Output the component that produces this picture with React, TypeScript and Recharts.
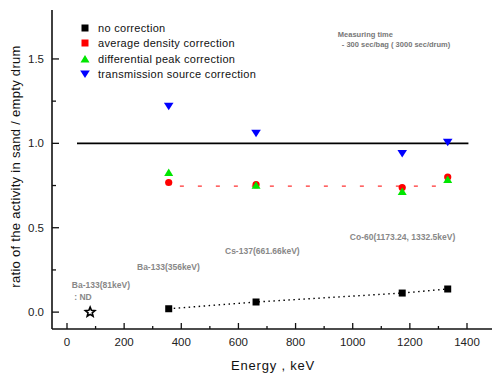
import React from "react";
import { ComposedChart, Scatter, Line, XAxis, YAxis, ReferenceDot, Label } from "recharts";

// energies of the measured gamma lines (keV)
const energies = [356, 661.66, 1173.24, 1332.5];
const noCorrection = [0.02, 0.06, 0.113, 0.137];
const avgDensity = [0.768, 0.755, 0.738, 0.8];
const diffPeak = [0.827, 0.752, 0.714, 0.786];
const transmission = [1.22, 1.06, 0.94, 1.006];
const ba81 = [{ x: 81, y: 0 }];
const unityLine = [{ x: 35, y: 1 }, { x: 1405, y: 1 }];
const avgLine = [{ x: 395, y: 0.747 }, { x: 1305, y: 0.747 }];

const xTicks = [0, 100, 200, 300, 400, 500, 600, 700, 800, 900, 1000, 1100, 1200, 1300, 1400];
const yTicks = [0, 0.25, 0.5, 0.75, 1, 1.25, 1.5];
const xDomain = [-52.5, 1501.5];
const yDomain = [-0.1, 1.79];

const seriesNames = [
  "no correction",
  "average density correction",
  "differential peak correction",
  "transmission source correction",
];
const seriesColors = ["#000000", "#ff0000", "#00e600", "#0000ff"];

const toPoints = (ys: number[]) => energies.map((x, i) => ({ x, y: ys[i] }));

const FONT = "'Liberation Sans', Arial, sans-serif";
const AXIS = "#111";

const Square = ({ cx, cy }: any) => <rect x={cx - 3.5} y={cy - 3.5} width={7} height={7} fill={seriesColors[0]} />;
const Dot = ({ cx, cy }: any) => <circle cx={cx} cy={cy} r={3.6} fill={seriesColors[1]} />;
const TriUp = ({ cx, cy }: any) => (
  <polygon points={`${cx},${cy - 4} ${cx + 4.5},${cy + 3.5} ${cx - 4.5},${cy + 3.5}`} fill={seriesColors[2]} />
);
const TriDown = ({ cx, cy }: any) => (
  <polygon points={`${cx - 4.8},${cy - 3.5} ${cx + 4.8},${cy - 3.5} ${cx},${cy + 4}`} fill={seriesColors[3]} />
);
const Star = ({ cx, cy }: any) => {
  const pts: string[] = [];
  for (let i = 0; i < 10; i++) {
    const r = i % 2 === 0 ? 5 : 2.2;
    const a = -Math.PI / 2 + (i * Math.PI) / 5;
    pts.push(`${cx + r * Math.cos(a)},${cy + r * Math.sin(a)}`);
  }
  return <polygon points={pts.join(" ")} fill="none" stroke="#000" strokeWidth={1.6} />;
};

const XTick = ({ x, y, payload }: any) => {
  const major = payload.value % 200 === 0;
  return (
    <g>
      <line x1={x} x2={x} y1={y} y2={y - (major ? 6 : 3)} stroke={AXIS} strokeWidth={1.3} />
      {major && (
        <text x={x} y={y + 13} textAnchor="middle" dominantBaseline="central" fontSize={11.5} fontFamily={FONT} fill="#222">
          {payload.value}
        </text>
      )}
    </g>
  );
};

const YTick = ({ x, y, payload }: any) => {
  const major = Math.abs(payload.value * 2 - Math.round(payload.value * 2)) < 1e-6;
  return (
    <g>
      <line x1={x} x2={x + (major ? 7 : 4)} y1={y} y2={y} stroke={AXIS} strokeWidth={1.3} />
      {major && (
        <text x={x - 8} y={y} textAnchor="end" dominantBaseline="central" fontSize={11.5} fontFamily={FONT} fill="#222">
          {payload.value.toFixed(1)}
        </text>
      )}
    </g>
  );
};

const note = (lines: string[], size: number, color: string, weight = "normal", indent = 0) =>
  ({ viewBox }: any) => (
    <text x={viewBox.x} y={viewBox.y} fontSize={size} fontFamily={FONT} fill={color} fontWeight={weight} dominantBaseline="central">
      {lines.map((l, i) => (
        <tspan key={i} x={viewBox.x + (i > 0 ? indent : 0)} dy={i === 0 ? 0 : size * 1.4}>
          {l}
        </tspan>
      ))}
    </text>
  );

const LegendBox = () => (
  <div style={{ position: "absolute", left: 79, top: 20, fontFamily: FONT, fontSize: 11, color: "#111", pointerEvents: "none" }}>
    {seriesNames.map((n, i) => (
      <div key={n} style={{ display: "flex", alignItems: "center", height: 15.5 }}>
        <svg width={12} height={12} style={{ marginRight: 7 }}>
          {i === 0 && <rect x={2.5} y={2.5} width={7} height={7} fill={seriesColors[0]} />}
          {i === 1 && <rect x={2.5} y={2.5} width={7} height={7} fill={seriesColors[1]} />}
          {i === 2 && <polygon points="6,2 10.5,9.5 1.5,9.5" fill={seriesColors[2]} />}
          {i === 3 && <polygon points="1.2,2.5 10.8,2.5 6,10" fill={seriesColors[3]} />}
        </svg>
        <span style={{ letterSpacing: 0.3 }}>{n}</span>
      </div>
    ))}
  </div>
);

export default function App() {
  return (
    <div style={{ position: "absolute", left: 0, top: 0, width: 492, height: 373, overflow: "hidden", background: "#fff" }}>
      <ComposedChart width={496} height={373} margin={{ top: 10, right: 0, bottom: 0, left: 0 }}>
        <XAxis
          dataKey="x"
          type="number"
          domain={xDomain}
          allowDataOverflow
          ticks={xTicks}
          interval={0}
          height={44}
          tickSize={0}
          tickMargin={0}
          tickLine={false}
          tick={<XTick />}
          axisLine={{ stroke: AXIS, strokeWidth: 1.6 }}
        >
          <Label
            content={({ viewBox }: any) => (
              <text x={273} y={viewBox.y + 36} textAnchor="middle" dominantBaseline="central" fontSize={13} fontFamily={FONT} fill="#111" letterSpacing={0.8}>
                Energy , keV
              </text>
            )}
          />
        </XAxis>
        <XAxis xAxisId="top" orientation="top" type="number" domain={xDomain} height={0} tick={false} tickLine={false} axisLine={{ stroke: AXIS, strokeWidth: 1.6 }} />
        <YAxis
          dataKey="y"
          type="number"
          domain={yDomain}
          allowDataOverflow
          ticks={yTicks}
          interval={0}
          width={52}
          tickSize={0}
          tickMargin={0}
          tickLine={false}
          tick={<YTick />}
          axisLine={{ stroke: AXIS, strokeWidth: 1.6 }}
        >
          <Label
            content={({ viewBox }: any) => {
              const cx = viewBox.x + 15;
              const cy = viewBox.y + viewBox.height / 2 - 3;
              return (
                <text x={cx} y={cy} transform={`rotate(-90 ${cx} ${cy})`} textAnchor="middle" dominantBaseline="central" fontSize={13} fontFamily={FONT} fill="#111" letterSpacing={0.3}>
                  ratio of the activity in sand / empty drum
                </text>
              );
            }}
          />
        </YAxis>

        <Line data={unityLine} dataKey="y" type="linear" stroke="#000" strokeWidth={1.6} dot={false} isAnimationActive={false} legendType="none" />
        <Line data={avgLine} dataKey="y" type="linear" stroke="#ff3333" strokeWidth={1.3} strokeDasharray="4 14" dot={false} isAnimationActive={false} legendType="none" />
        <Line data={toPoints(noCorrection)} dataKey="y" type="linear" stroke="#000" strokeWidth={1.4} strokeDasharray="1.5 3.5" dot={false} isAnimationActive={false} legendType="none" />

        <Scatter name={seriesNames[0]} data={toPoints(noCorrection)} shape={<Square />} isAnimationActive={false} />
        <Scatter data={ba81} shape={<Star />} isAnimationActive={false} legendType="none" />
        <Scatter name={seriesNames[1]} data={toPoints(avgDensity)} shape={<Dot />} isAnimationActive={false} />
        <Scatter name={seriesNames[2]} data={toPoints(diffPeak)} shape={<TriUp />} isAnimationActive={false} />
        <Scatter name={seriesNames[3]} data={toPoints(transmission)} shape={<TriDown />} isAnimationActive={false} />

        <ReferenceDot x={948} y={1.648} r={0} fill="none" stroke="none" ifOverflow="visible"
          label={note(["Measuring time", "- 300 sec/bag ( 3000 sec/drum)"], 7.5, "#777", "bold", 4)} />
        <ReferenceDot x={17} y={0.16} r={0} fill="none" stroke="none" ifOverflow="visible"
          label={note(["Ba-133(81keV)", " : ND"], 8.5, "#888", "bold")} />
        <ReferenceDot x={245} y={0.267} r={0} fill="none" stroke="none" ifOverflow="visible"
          label={note(["Ba-133(356keV)"], 8.5, "#888", "bold")} />
        <ReferenceDot x={553} y={0.362} r={0} fill="none" stroke="none" ifOverflow="visible"
          label={note(["Cs-137(661.66keV)"], 8.5, "#888", "bold")} />
        <ReferenceDot x={990} y={0.445} r={0} fill="none" stroke="none" ifOverflow="visible"
          label={note(["Co-60(1173.24, 1332.5keV)"], 8.5, "#888", "bold")} />
      </ComposedChart>
      <LegendBox />
    </div>
  );
}
